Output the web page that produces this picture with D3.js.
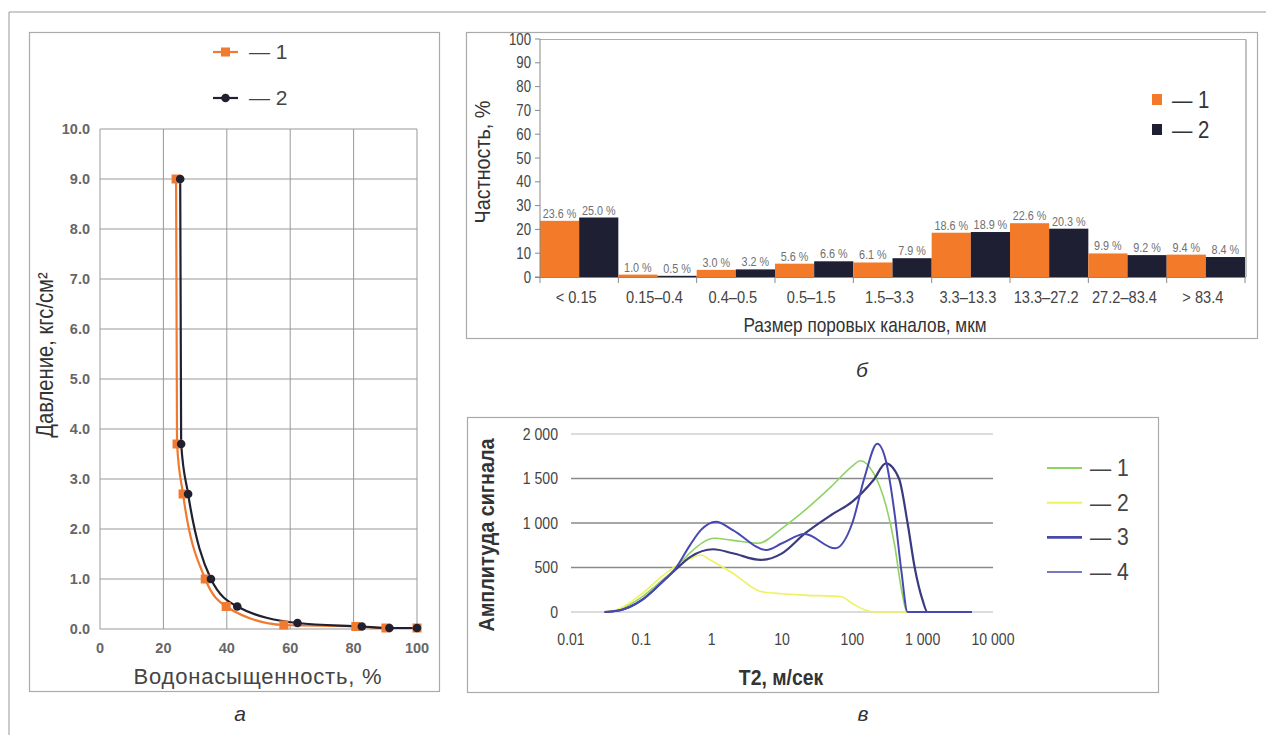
<!DOCTYPE html>
<html><head><meta charset="utf-8">
<script src="https://cdn.jsdelivr.net/npm/d3@7"></script>
<style>body{margin:0;background:#fff}svg{display:block}</style>
</head><body>
<svg id="c" width="1266" height="735"></svg>
<script>
// ---------- Panel a data ----------
const satA1 = [24.0, 24.3, 26.2, 33.2, 39.8, 58.0, 80.7, 90.2, 100];
const presA1 = [9.0, 3.7, 2.7, 1.0, 0.45, 0.08, 0.05, 0.02, 0.02];
const satA2 = [25.3, 25.6, 27.8, 35.0, 43.3, 62.3, 82.6, 91.3, 100];
const presA2 = [9.0, 3.7, 2.7, 1.0, 0.45, 0.12, 0.05, 0.02, 0.02];
const xTicksA = [0, 20, 40, 60, 80, 100];
const yTicksA = [0, 1, 2, 3, 4, 5, 6, 7, 8, 9, 10];

// ---------- Panel b data ----------
const categoriesB = ["< 0.15", "0.15\u20130.4", "0.4\u20130.5", "0.5\u20131.5", "1.5\u20133.3", "3.3\u201313.3", "13.3\u201327.2", "27.2\u201383.4", "> 83.4"];
const freq1 = [23.6, 1.0, 3.0, 5.6, 6.1, 18.6, 22.6, 9.9, 9.4];
const freq2 = [25.0, 0.5, 3.2, 6.6, 7.9, 18.9, 20.3, 9.2, 8.4];
const yTicksB = [0, 10, 20, 30, 40, 50, 60, 70, 80, 90, 100];

// ---------- Panel c data ----------
const t1 = [0.03, 0.05, 0.1, 0.2, 0.3, 0.5, 1.1, 2, 4.6, 10, 20, 50, 100, 130, 200, 300, 400, 500, 600, 5000];
const v1 = [0, 30, 165, 360, 480, 670, 828, 805, 772, 940, 1127, 1408, 1640, 1700, 1560, 1200, 750, 250, 0, 0];
const t2 = [0.03, 0.05, 0.1, 0.2, 0.3, 0.5, 0.7, 1, 2, 5, 10, 20, 70, 100, 150, 200, 5000];
const v2 = [0, 40, 200, 405, 510, 600, 640, 575, 435, 230, 205, 190, 172, 95, 25, 0, 0];
const t3 = [0.03, 0.05, 0.1, 0.2, 0.3, 0.5, 0.7, 1.15, 2, 6, 10, 21, 57, 100, 150, 226, 300, 400, 500, 610, 5000];
const v3 = [0, 20, 130, 340, 480, 760, 920, 1015, 921, 697, 772, 876, 715, 1000, 1520, 1890, 1700, 1100, 450, 0, 0];
const t4 = [0.03, 0.05, 0.1, 0.2, 0.3, 0.5, 1.05, 2, 5, 10, 21, 50, 100, 200, 300, 460, 610, 770, 1000, 1170, 5000];
const v4 = [0, 20, 130, 340, 470, 620, 705, 660, 585, 659, 880, 1090, 1240, 1483, 1670, 1500, 1000, 500, 130, 0, 0];
const xTicksC = [0.01, 0.1, 1, 10, 100, 1000, 10000];
const xTickLabelsC = ["0.01", "0.1", "1", "10", "100", "1 000", "10 000"];
const yTicksC = [0, 500, 1000, 1500, 2000];
const yTickLabelsC = ["0", "500", "1 000", "1 500", "2 000"];

const svg = d3.select("#c");
const SANS = "'Liberation Sans', Arial, sans-serif";

svg.append("rect").attr("width", 1266).attr("height", 735).attr("fill", "#fff");
svg.append("path").attr("d", "M9,735 V12 H1266").attr("fill", "none").attr("stroke", "#999").attr("stroke-width", 1);
[[29, 32, 410, 659], [466, 32, 791, 306], [467, 417, 691, 275]].forEach(b => {
  svg.append("rect").attr("x", b[0] + 0.5).attr("y", b[1] + 0.5).attr("width", b[2]).attr("height", b[3])
    .attr("fill", "none").attr("stroke", "#aaa").attr("stroke-width", 1.2);
});

// narrow-looking text helper (horizontal squeeze)
function ntext(g, x, y, txt, size, anchor, fill, sx, rot, weight) {
  const t = g.append("text")
    .attr("transform", `translate(${x},${y})` + (rot ? ` rotate(${rot})` : "") + ` scale(${sx},1)`)
    .attr("text-anchor", anchor).attr("font-family", SANS).attr("font-size", size).attr("fill", fill).text(txt);
  if (weight) t.attr("font-weight", weight);
  return t;
}

// ================= Panel a =================
(function () {
  const x = d3.scaleLinear().domain([0, 100]).range([100, 417]);
  const y = d3.scaleLinear().domain([0, 10]).range([629, 129]);
  const g = svg.append("g");
  g.selectAll(".vg").data(xTicksA).enter().append("line")
    .attr("x1", d => x(d)).attr("x2", d => x(d)).attr("y1", y(0)).attr("y2", y(10))
    .attr("stroke", "#999").attr("stroke-width", 1);
  g.selectAll(".hg").data(yTicksA).enter().append("line")
    .attr("x1", x(0)).attr("x2", x(100)).attr("y1", d => y(d)).attr("y2", d => y(d))
    .attr("stroke", "#999").attr("stroke-width", 1);
  g.selectAll(".yl").data(yTicksA).enter().append("text")
    .attr("x", 90).attr("y", d => y(d) + 5).attr("text-anchor", "end")
    .attr("font-family", SANS).attr("font-size", 14.5).attr("font-weight", "bold").attr("fill", "#666")
    .text(d => d.toFixed(1));
  g.selectAll(".xl").data(xTicksA).enter().append("text")
    .attr("x", d => x(d)).attr("y", 653).attr("text-anchor", "middle")
    .attr("font-family", SANS).attr("font-size", 14.5).attr("font-weight", "bold").attr("fill", "#666")
    .text(d => d);
  g.append("text").attr("x", 258).attr("y", 684).attr("text-anchor", "middle")
    .attr("font-family", SANS).attr("font-size", 22).attr("letter-spacing", 0.8).attr("fill", "#444").text("Водонасыщенность, %");
  ntext(g, 53, 355, "Давление, кгс/см²", 23, "middle", "#333", 0.88, -90);

  const line = d3.line().curve(d3.curveMonotoneX).x(d => x(d[0])).y(d => y(d[1]));
  const s1 = satA1.map((s, i) => [s, presA1[i]]);
  const s2 = satA2.map((s, i) => [s, presA2[i]]);
  const C1 = "#f07a30", C2 = "#202030";
  g.append("path").datum(s1).attr("d", line).attr("fill", "none").attr("stroke", C1).attr("stroke-width", 2.2);
  g.append("path").datum(s2).attr("d", line).attr("fill", "none").attr("stroke", C2).attr("stroke-width", 2.2);
  g.selectAll(".m1").data(s1).enter().append("rect")
    .attr("x", d => x(d[0]) - 4.5).attr("y", d => y(d[1]) - 4.5).attr("width", 9).attr("height", 9).attr("fill", C1);
  g.selectAll(".m2").data(s2).enter().append("circle")
    .attr("cx", d => x(d[0])).attr("cy", d => y(d[1])).attr("r", 4.3).attr("fill", C2);

  g.append("line").attr("x1", 213).attr("x2", 238).attr("y1", 52).attr("y2", 52).attr("stroke", C1).attr("stroke-width", 2.2);
  g.append("rect").attr("x", 221).attr("y", 47.5).attr("width", 9).attr("height", 9).attr("fill", C1);
  g.append("line").attr("x1", 213).attr("x2", 238).attr("y1", 98).attr("y2", 98).attr("stroke", C2).attr("stroke-width", 2.2);
  g.append("circle").attr("cx", 225.5).attr("cy", 98).attr("r", 4.3).attr("fill", C2);
  g.append("text").attr("x", 249).attr("y", 59).attr("font-family", SANS).attr("font-size", 21).attr("fill", "#444").text("— 1");
  g.append("text").attr("x", 249).attr("y", 105).attr("font-family", SANS).attr("font-size", 21).attr("fill", "#444").text("— 2");
  g.append("text").attr("x", 240).attr("y", 721).attr("text-anchor", "middle").attr("font-family", SANS)
    .attr("font-style", "italic").attr("font-size", 21).attr("fill", "#333").text("а");
})();

// ================= Panel b =================
(function () {
  const x = d3.scaleBand().domain(categoriesB).range([540, 1245]).paddingInner(0).paddingOuter(0);
  const sub = d3.scaleBand().domain([0, 1]).range([0, x.bandwidth()]);
  const y = d3.scaleLinear().domain([0, 100]).range([277, 39]);
  const g = svg.append("g");
  g.append("line").attr("x1", 540).attr("x2", 1246).attr("y1", 39.5).attr("y2", 39.5).attr("stroke", "#d9a27a").attr("stroke-width", 1.2);
  g.append("line").attr("x1", 1246).attr("x2", 1246).attr("y1", 39.5).attr("y2", 277).attr("stroke", "#999").attr("stroke-width", 1.2);
  const C1 = "#f37a28", C2 = "#1f1f33";
  const data = categoriesB.map((c, i) => ({ c, v: [freq1[i], freq2[i]] }));
  const grp = g.selectAll(".grp").data(data).enter().append("g").attr("transform", d => `translate(${x(d.c)},0)`);
  grp.selectAll("rect").data(d => d.v.map((v, k) => ({ v, k }))).enter().append("rect")
    .attr("x", d => sub(d.k)).attr("width", sub.bandwidth()).attr("y", d => y(d.v)).attr("height", d => y(0) - y(d.v))
    .attr("fill", d => d.k === 0 ? C1 : C2);
  grp.selectAll("text").data(d => d.v.map((v, k) => ({ v, k }))).enter().append("text")
    .attr("transform", d => `translate(${sub(d.k) + sub.bandwidth() / 2},${y(d.v) - 3}) scale(0.9,1)`)
    .attr("text-anchor", "middle")
    .attr("font-family", SANS).attr("font-size", 12).attr("fill", "#707070")
    .text(d => d.v.toFixed(1) + " %");
  g.append("line").attr("x1", 540).attr("x2", 540).attr("y1", 39).attr("y2", 277).attr("stroke", "#888");
  g.append("line").attr("x1", 535).attr("x2", 1246).attr("y1", 277.5).attr("y2", 277.5).attr("stroke", "#888");
  g.selectAll(".yt").data(yTicksB).enter().append("line")
    .attr("x1", 535).attr("x2", 540).attr("y1", d => y(d)).attr("y2", d => y(d)).attr("stroke", "#888");
  yTicksB.forEach(d => ntext(g, 531, y(d) + 5.5, d, 16.5, "end", "#444", 0.8));
  const bounds = categoriesB.map(c => x(c)).concat([1245]);
  g.selectAll(".xt").data(bounds).enter().append("line")
    .attr("x1", d => d).attr("x2", d => d).attr("y1", 277).attr("y2", 283).attr("stroke", "#888");
  categoriesB.forEach(c => ntext(g, x(c) + x.bandwidth() / 2 - 3, 303, c, 17, "middle", "#444", 0.86));
  ntext(g, 865, 332, "Размер поровых каналов, мкм", 21, "middle", "#333", 0.82);
  ntext(g, 490, 162, "Частность, %", 22, "middle", "#333", 0.9, -90);
  g.append("rect").attr("x", 1152).attr("y", 94).attr("width", 10).attr("height", 11).attr("fill", C1);
  g.append("rect").attr("x", 1152).attr("y", 124).attr("width", 10).attr("height", 11).attr("fill", C2);
  ntext(g, 1172, 108, "— 1", 24, "start", "#333", 0.85);
  ntext(g, 1172, 138, "— 2", 24, "start", "#333", 0.85);
  g.append("text").attr("x", 862).attr("y", 377).attr("text-anchor", "middle").attr("font-family", SANS)
    .attr("font-style", "italic").attr("font-size", 21).attr("fill", "#333").text("б");
})();

// ================= Panel c =================
(function () {
  const x = d3.scaleLog().domain([0.01, 10000]).range([571, 993]);
  const y = d3.scaleLinear().domain([0, 2000]).range([612, 434]);
  const g = svg.append("g");
  g.selectAll(".hg").data(yTicksC).enter().append("line")
    .attr("x1", 571).attr("x2", 993).attr("y1", d => y(d)).attr("y2", d => y(d))
    .attr("stroke", d => (d === 0 || d === 2000) ? "#d0d0d0" : "#8a8a8a").attr("stroke-width", 1.3);
  yTicksC.forEach((d, i) => ntext(g, 558, y(d) + 5.5, yTickLabelsC[i], 16, "end", "#444", 0.88));
  xTicksC.forEach((d, i) => ntext(g, x(d), 645, xTickLabelsC[i], 16, "middle", "#444", 0.88));
  ntext(g, 781, 685, "T2, м/сек", 22, "middle", "#333", 0.88, 0, "bold");
  ntext(g, 494, 535, "Амплитуда сигнала", 22, "middle", "#333", 0.9, -90, "bold");

  const series = [
    { t: t1, v: v1, c: "#8fd462", w: 1.6 },
    { t: t2, v: v2, c: "#eef25c", w: 1.6 },
    { t: t4, v: v4, c: "#3a3a80", w: 2.2 },
    { t: t3, v: v3, c: "#4848b0", w: 2.0 }
  ];
  const line = d3.line().curve(d3.curveMonotoneX).x(d => x(d[0])).y(d => y(d[1]));
  series.forEach(s => {
    g.append("path").datum(s.t.map((t, i) => [t, s.v[i]])).attr("d", line)
      .attr("fill", "none").attr("stroke", s.c).attr("stroke-width", s.w);
  });
  const leg = [
    { c: "#8fd462", w: 2, lab: "— 1" },
    { c: "#eef25c", w: 2, lab: "— 2" },
    { c: "#4848a8", w: 2.6, lab: "— 3" },
    { c: "#7878c0", w: 2, lab: "— 4" }
  ];
  leg.forEach((l, i) => {
    const yy = 468 + i * 34.7;
    g.append("line").attr("x1", 1047).attr("x2", 1082).attr("y1", yy).attr("y2", yy).attr("stroke", l.c).attr("stroke-width", l.w);
    ntext(g, 1090, yy + 8, l.lab, 24, "start", "#444", 0.88);
  });
  g.append("text").attr("x", 863).attr("y", 721).attr("text-anchor", "middle").attr("font-family", SANS)
    .attr("font-style", "italic").attr("font-size", 21).attr("fill", "#333").text("в");
})();
</script>
</body></html>
